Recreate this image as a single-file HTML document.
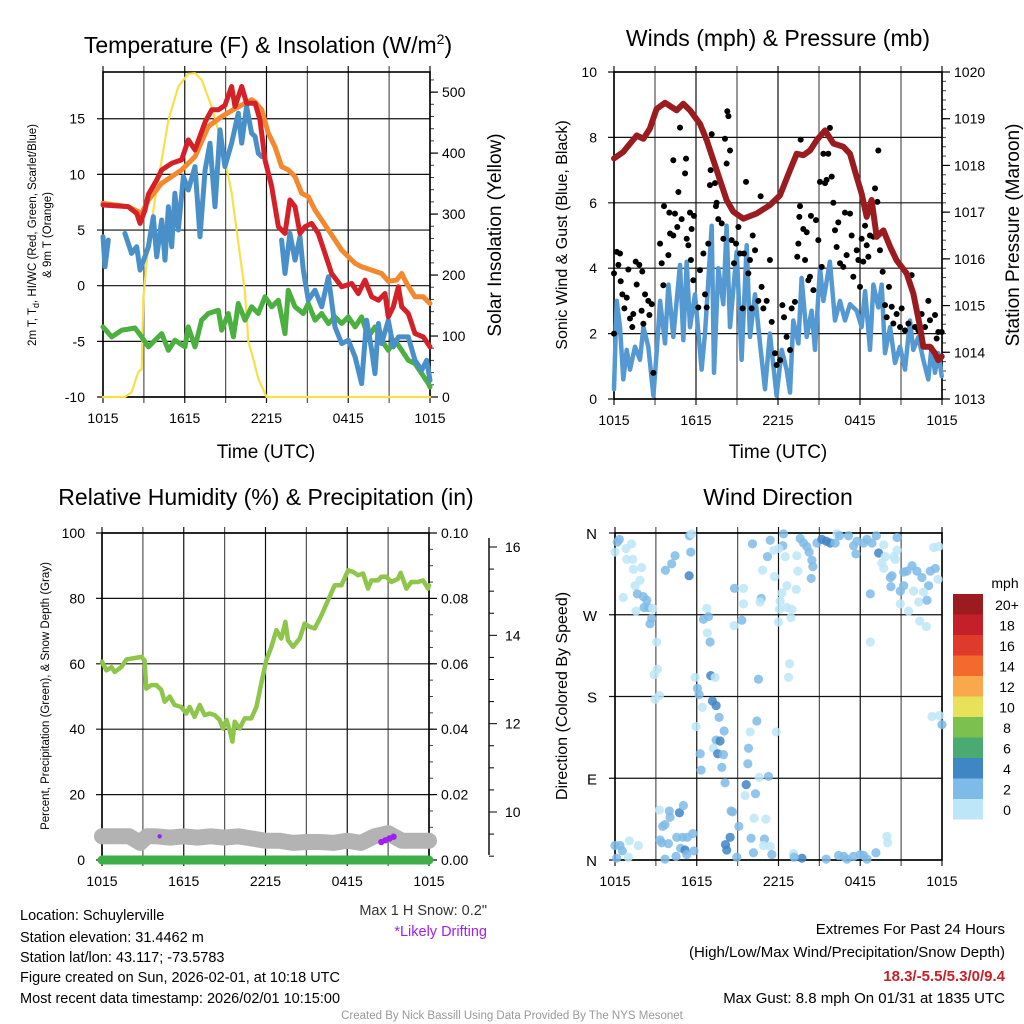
<!DOCTYPE html>
<html><head><meta charset="utf-8"><style>
body{margin:0;background:#fff}
svg{display:block;font-family:"Liberation Sans",sans-serif}
</style></head><body>
<svg id="c" width="1024" height="1024" viewBox="0 0 1024 1024" xmlns="http://www.w3.org/2000/svg">
<rect width="1024" height="1024" fill="#fff"/>
<g id="g"></g>
<text x="268" y="53" font-size="23" text-anchor="middle">Temperature (F) &amp; Insolation (W/m<tspan dy="-9" font-size="14">2</tspan><tspan dy="9">)</tspan></text>
<text x="778" y="46" font-size="23" text-anchor="middle">Winds (mph) &amp; Pressure (mb)</text>
<text x="266" y="505" font-size="23" text-anchor="middle">Relative Humidity (%) &amp; Precipitation (in)</text>
<text x="778" y="505" font-size="23" text-anchor="middle">Wind Direction</text>
<text x="266" y="458" font-size="19" text-anchor="middle">Time (UTC)</text>
<text x="778" y="458" font-size="19" text-anchor="middle">Time (UTC)</text>
<text transform="translate(36,235) rotate(-90)" font-size="11.5" text-anchor="middle">2m T, T<tspan dy="3" font-size="9">d</tspan><tspan dy="-3">, HI/WC (Red, Green, Scarlet/Blue)</tspan></text>
<text transform="translate(51,235) rotate(-90)" font-size="11.5" text-anchor="middle">&amp; 9m T (Orange)</text>
<text transform="translate(501,235) rotate(-90)" font-size="19" text-anchor="middle">Solar Insolation (Yellow)</text>
<text transform="translate(567,235) rotate(-90)" font-size="16" text-anchor="middle">Sonic Wind &amp; Gust (Blue, Black)</text>
<text transform="translate(1019,235) rotate(-90)" font-size="19" text-anchor="middle">Station Pressure (Maroon)</text>
<text transform="translate(49,696) rotate(-90)" font-size="11.5" text-anchor="middle">Percent, Precipitation (Green), &amp; Snow Depth (Gray)</text>
<text transform="translate(567,696) rotate(-90)" font-size="16" text-anchor="middle">Direction (Colored By Speed)</text>
<g font-size="14.5">
<text x="20" y="920">Location: Schuylerville</text>
<text x="20" y="942">Station elevation: 31.4462 m</text>
<text x="20" y="962">Station lat/lon: 43.117; -73.5783</text>
<text x="20" y="982">Figure created on Sun, 2026-02-01, at 10:18 UTC</text>
<text x="20" y="1003">Most recent data timestamp: 2026/02/01 10:15:00</text>
</g>
<text x="487" y="915" font-size="14.5" text-anchor="end" fill="#333">Max 1 H Snow: 0.2"</text>
<text x="487" y="936" font-size="14.5" text-anchor="end" fill="#a020f0">*Likely Drifting</text>
<g font-size="15" text-anchor="end">
<text x="1005" y="934">Extremes For Past 24 Hours</text>
<text x="1005" y="957">(High/Low/Max Wind/Precipitation/Snow Depth)</text>
<text x="1005" y="981" fill="#c8202a" font-weight="bold">18.3/-5.5/5.3/0/9.4</text>
<text x="1005" y="1003">Max Gust: 8.8 mph On 01/31 at 1835 UTC</text>
</g>
<text x="512" y="1019" font-size="11.5" text-anchor="middle" fill="#999">Created By Nick Bassill Using Data Provided By The NYS Mesonet</text>
</svg>
<script>
// ---- Panel 1: temperature (hours since 1015 UTC, value) ----
const redT=[0,1.86,2.47,2.72,3.08,3.33,3.94,4.31,5.04,5.77,6.26,6.75,7.49,7.98,8.46,8.95,9.44,9.69,10.18,10.54,11.16,11.52,11.89,12.38,12.87,13.36,13.72,14.09,14.46,14.83,15.31,15.8,16.29,16.78,17.52,18.25,18.74,19.23,19.72,20.21,20.7,20.94,21.31,21.68,21.92,22.41,22.9,23.51,24];
const redV=[7.25,7.1,6.5,5.6,6.8,8.2,9.5,10.4,11,11.3,13.1,12.2,14.7,15.8,15.8,16.2,17.9,16.1,17.9,16.4,16.4,14.9,11.3,8.9,5.3,4.7,7.7,7.1,4.7,5.3,5.6,4.7,2.9,1.1,-0.1,0.2,-0.7,0.5,-1,-1.3,-0.7,-2.8,-1.9,-0.1,-1.9,-2.5,-4.3,-4.6,-5.5];
const orgT=[0,1.86,2.84,3.33,4.31,5.77,6.75,7.73,8.71,9.69,10.91,11.16,11.65,12.13,12.62,13.11,13.6,14.09,14.58,15.07,15.56,16.54,17.52,18.5,18.98,19.72,20.45,20.94,21.55,21.92,22.29,22.9,23.51,24];
const orgV=[7.4,7.1,6.5,7.7,9.2,10.4,11.6,14.3,15.2,15.9,16.7,16.5,15.8,13.7,12.5,10.7,10.4,9.8,8.3,8,6.8,5,3.2,2,1.7,1.4,1.1,0.4,0.5,1.1,0.2,-1,-1,-1.6];
const bluT=[0,0.15,0.39,null,0.88,null,1.61,2.1,2.47,2.72,3.33,3.69,3.94,4.31,4.55,4.8,5.04,5.28,5.53,5.9,6.26,6.75,7.12,7.49,7.85,8.22,8.59,8.95,9.44,9.93,10.18,10.54,10.91,11.16,11.4,11.65,null,13.11,13.36,13.72,14.09,14.46,14.7,15.07,15.56,16.05,16.54,17.03,17.52,18,18.5,18.98,19.35,19.72,19.96,20.21,20.45,20.94,21.31,21.68,22.04,22.41,22.9,23.39,23.76,24];
const bluV=[4.4,1.7,4.1,null,5.9,null,4.7,2.9,3.5,1.4,3.5,6.2,2.6,5.9,2.3,7.1,3.5,8.3,5,9.8,8.6,10.7,4.4,10.4,12.8,7.1,14,10.7,12.8,15.5,12.8,16.1,13.7,13.4,11.9,11.6,null,4.1,1.1,4.7,2.3,4.4,1.4,-1.3,-0.4,-1.9,0.8,-3.7,-5.2,-4.9,-6.4,-8.8,-3.1,-5.8,-7.9,-3.4,-5.2,-3.1,-5.5,-4.6,-4.6,-4.6,-6.7,-7.6,-6.7,-8.5];
const grnT=[0,0.64,1.37,2.35,2.84,3.33,3.82,4.31,4.8,5.28,6.02,6.26,6.75,7.24,7.73,8.46,8.71,9.2,9.57,9.93,10.42,10.91,11.4,11.89,12.38,12.87,13.36,13.6,14.09,14.7,15.07,15.56,16.05,16.54,17.03,17.52,18,18.5,18.98,19.47,19.96,20.45,20.94,21.43,21.92,22.41,22.9,23.39,23.88,24];
const grnV=[-3.7,-4.6,-4,-3.8,-4.6,-5.5,-4.9,-4.3,-5.8,-4.9,-5.5,-3.7,-5.5,-3.1,-2.5,-2.2,-4,-2.5,-4.6,-1.6,-3.1,-1.9,-2.5,-1,-1.9,-1.3,-4.3,-0.4,-1.9,-2.5,-1.6,-3.1,-2.5,-3.4,-2.8,-3.4,-2.8,-3.7,-2.8,-4.6,-3.7,-4.9,-5.8,-4.9,-5.8,-6.7,-7,-7.9,-8.8,-9.1];
const solT=[0,1.61,2.1,2.59,2.84,2.96,3.33,3.82,4.31,4.8,5.53,6.26,6.75,7.24,7.98,8.71,9.44,9.93,10.42,10.67,10.91,11.4,12.01,24];
const solV=[0,0,8,41,46,160,253,324,389,454,509,530,531,520,476,416,335,253,171,90,73,30,0,0];
const p1LeftTicks=[-10,-5,0,5,10,15];
const p1RightTicks=[0,100,200,300,400,500];
const timeLabels=["1015","1615","2215","0415","1015"];
// ---- Panel 2: wind & pressure ----
const presT=[0,0.68,1.66,2.15,2.63,3.12,3.73,4.59,5.07,5.56,6.29,6.78,7.27,7.76,8.24,8.73,9.46,10.44,11.41,12.15,12.88,13.37,13.85,14.34,14.83,15.44,16.05,16.78,17.27,17.76,18.12,18.49,18.85,19.22,19.71,20.2,20.68,21.41,21.9,22.39,22.63,23.12,23.49,23.73,23.98];
const presV=[1018.15,1018.29,1018.64,1018.57,1018.79,1019.21,1019.34,1019.18,1019.32,1019.18,1018.89,1018.54,1018.11,1017.68,1017.26,1017.01,1016.86,1016.97,1017.15,1017.36,1017.9,1018.25,1018.22,1018.32,1018.54,1018.75,1018.47,1018.4,1018.25,1017.75,1017.4,1016.9,1017.26,1016.47,1016.61,1016.26,1015.97,1015.69,1015.26,1014.55,1014.12,1014.12,1013.98,1013.83,1013.91];
const windT=[0,0.2,0.44,0.68,0.93,1.17,1.54,1.9,2.15,2.51,2.88,3.12,3.37,3.73,3.98,4.34,4.83,5.07,5.32,5.56,5.93,6.41,6.66,6.9,7.15,7.32,7.63,8,8.24,8.49,8.98,9.34,9.71,9.95,10.32,10.68,11.05,11.41,11.9,12.27,12.63,12.88,13.12,13.49,13.73,14.1,14.46,14.71,15.07,15.32,15.8,16.17,16.54,16.9,17.27,17.76,18.12,18.37,18.73,18.98,19.34,19.59,19.83,20.2,20.56,20.93,21.29,21.66,21.9,22.27,22.63,23,23.24,23.49,23.73,23.98];
const windV=[0.3,3,2.2,0.6,1.5,0.9,1.6,1.2,2.2,1.6,0.1,1.4,3,1.7,3.5,1.9,4.1,1.8,4.2,2.2,3.2,0.9,2,3.6,5.3,0.8,4,2.9,5.3,2.2,4.5,1.2,4.7,1.9,3.2,1.7,0.3,2,0.1,1.5,0.9,0.2,2.4,1.7,3.7,1.9,2.7,1.5,4,3,4.2,2.4,3,2.4,2.9,2.7,2.2,3.3,1.5,3.5,2.8,3.5,1.4,2.2,1.1,1.6,0.9,2.4,1.5,1.9,1.2,0.6,1.6,0.8,1.4,0.7];
const gustT=[0,0,0.2,0.44,0.32,0.49,0.61,0.76,0.93,1.05,1.17,1.34,1.41,1.66,1.59,1.85,2.07,2.02,2.15,2.27,2.51,2.76,2.59,2.88,3.37,3.49,3.61,3.66,3.98,4.05,4.1,4.34,4.34,4.46,4.63,4.71,4.83,4.95,5.2,5.27,5.32,5.44,5.56,5.63,5.68,5.8,5.85,6.17,6.29,6.54,6.66,6.78,6.9,7.02,7.07,7.15,7.39,7.46,7.51,7.63,7.88,8,8.12,8.24,8.29,8.37,8.49,8.61,8.78,8.93,9.1,9.22,9.41,9.51,9.66,9.83,9.95,10.07,10.15,10.32,10.56,10.73,10.8,10.93,11.17,11.41,11.54,11.78,11.9,12.15,12.32,12.44,12.63,12.88,13,13.24,13.41,13.49,13.56,13.61,13.66,13.85,13.98,14.1,14.22,14.34,14.41,14.59,14.78,14.95,15.07,15.2,15.32,15.44,15.56,15.68,15.8,15.93,16.05,16.17,16.29,16.41,16.54,16.78,16.9,17.02,17.27,17.39,17.51,17.76,17.88,18,18.12,18.24,18.37,18.49,18.61,18.73,18.98,19.1,19.27,19.34,19.46,19.66,19.83,19.95,20.12,20.32,20.44,20.68,20.93,21.05,21.29,21.54,21.78,22.02,22.27,22.51,22.76,23,23.12,23.49,23.73,23.98,23.61];
const gustV=[3.84,2,4.5,4.45,4.1,3.6,3.2,2.77,3.1,3.96,2.46,2.2,2.6,3.5,4.2,4.1,3.9,2.7,2.3,3.2,3,2.9,2.57,0.8,4.75,4.15,3.48,5.9,4.4,5.7,5.06,5,7.3,5.67,5.26,6.33,8.3,5.5,6.9,7.35,4.9,4.7,5.7,4.25,5.2,3.63,5.6,2.8,3.94,4.45,3.2,2.8,4.75,6.54,7,8.1,6.6,5.9,6,5.5,5.37,4.9,7.96,7.2,8.8,8.65,7.6,4.86,4.15,4.75,5.26,4.45,2.77,4.45,6.64,3.84,4.25,2.77,5,4.55,3,6.2,3.43,2.77,3,4.25,2.36,1.4,1.04,1.19,2.87,2.5,1.9,1.5,2.77,2.97,4.35,4.75,5.57,5.9,7.93,5.2,4.25,5.1,3.63,3.74,5.6,3.33,5.47,4.86,6.64,4.04,7.5,6.6,6.7,7.5,8.29,6.8,6,5.16,4.65,5.4,4.15,4.04,5.7,4.4,5.67,5,3.74,4.55,4.25,3.43,4.9,4.2,5.3,4.7,4.35,5,4.96,6.44,6.03,7.6,4.55,3.89,2.87,2.5,3.43,2.82,2.31,2.6,2.2,2.77,2.1,2.31,3.79,2.2,2.1,2.6,2.2,3,2.41,2.57,2.05,2.05,1.85];
const p2LeftTicks=[0,2,4,6,8,10];
const p2RightTicks=[1013,1014,1015,1016,1017,1018,1019,1020];
// ---- Panel 3: RH, precip, snow ----
const rhT=[0,0.32,0.69,0.93,1.42,1.79,2.15,2.89,3.13,3.25,3.62,3.99,4.35,4.6,4.97,5.33,5.82,6.19,6.43,6.8,7.17,7.54,7.9,8.27,8.64,8.88,9.13,9.37,9.57,9.74,10.1,10.47,10.96,11.33,11.69,12.06,12.43,12.8,13.16,13.46,13.65,14.02,14.51,14.87,15.24,15.61,16.1,16.59,17.08,17.57,18.06,18.42,18.79,19.16,19.52,19.77,20.26,20.5,20.87,21.24,21.72,21.92,22.34,22.7,23.19,23.56,23.93,24];
const rhV=[60.6,58,59,57.5,59,61.3,61.6,62.1,61,52.4,53.5,53.5,52,48.4,50,47.4,46.8,44.8,46.8,43.8,47.4,44.3,44.8,44.3,42.8,40.2,42.8,39.7,36.2,42.3,40.2,43.3,43.3,46.8,54,61.1,65.2,70.3,67.7,72.8,67.2,65.2,67.7,72.3,71.3,70.8,74.8,79.4,84,84,88.6,88.1,87.1,87.6,83,85.5,85.5,86.6,86.6,85,86,87.8,83,85,85,85.5,83,84];
const snowT=[0,1,2,2.8,3.3,4,5,6,7,8,9,10,11,12,13,14,15,16,17,18,19,20,21,22,23,24];
const snowV=[9.45,9.45,9.45,9.3,9.45,9.45,9.42,9.45,9.42,9.45,9.42,9.45,9.4,9.35,9.35,9.3,9.32,9.32,9.3,9.35,9.3,9.45,9.52,9.35,9.35,9.35];
const precipT=[0,24];
const precipV=[0,0];
const driftT=[4.23,20.5,20.8,21.1,21.4];
const driftV=[9.45,9.32,9.36,9.4,9.44];
const p3LeftTicks=[0,20,40,60,80,100];
const p3RightTicks=[0,0.02,0.04,0.06,0.08,0.10];
const snowTicks=[10,12,14,16];
// ---- Panel 4: wind direction [hours, degrees, mph] ----
const dirPts=[[0,339,1],[0.17,350,3],[0.32,353,3],[0.81,343,1],[1.22,348,1],[0.86,331,1],[1.3,331,1],[1.35,320,1],[1.96,322,1],[0.61,289,1],[1.47,302,1],[1.84,308,1],[1.64,293,3],[2.08,290,3],[2.33,286,3],[2.13,278,3],[2.45,278,3],[1.54,274,1],[2.77,277,1],[2.69,266,3],[2.57,260,3],[3.06,240,1],[3.11,210,1],[2.87,204,1],[3.26,181,1],[2.94,177,1],[3.7,319,3],[4.16,326,3],[4.41,335,3],[5.46,357,3],[5.63,359,1],[5.56,339,3],[5.44,313,5],[6.74,277,1],[6.86,268,3],[6.49,265,3],[6.78,250,1],[6.98,240,3],[5.88,201,1],[7.03,203,5],[7.35,201,1],[6.05,189,3],[6.17,182,3],[6.42,168,1],[5.95,147,1],[7.15,175,5],[7.42,170,5],[7.64,157,3],[8.01,142,3],[7.42,132,3],[7.71,131,5],[7.22,123,1],[7.54,117,5],[7.96,116,3],[6.25,117,3],[6.32,99,3],[7.84,102,3],[8.08,85,3],[8.77,299,3],[9.43,299,1],[9.43,282,1],[9.31,264,3],[8.74,258,1],[10.09,348,3],[11.19,334,3],[10.83,319,1],[11.39,352,3],[11.68,341,1],[11.71,312,1],[10.73,288,3],[10.65,284,1],[10.53,199,3],[10.41,153,3],[9.92,141,1],[11.83,141,1],[12.81,216,1],[12.74,201,1],[9.8,123,3],[9.75,106,3],[9.63,83,5],[9.55,71,1],[10.31,73,3],[10.58,91,1],[11.27,92,3],[8.62,53,3],[8.52,54,3],[9.09,37,3],[10.21,46,1],[11.07,45,1],[8.45,25,5],[8.11,17,5],[8.2,11,5],[9.99,24,3],[10.97,23,3],[10.9,16,1],[11.39,15,1],[10.16,8,3],[11.51,6,3],[8.94,3,3],[12.37,359,3],[12.32,346,3],[12.49,334,1],[12.03,343,1],[13.35,335,1],[13.42,318,1],[13.59,354,3],[13.84,349,3],[14.08,345,3],[14.25,339,3],[14.45,330,3],[14.52,323,3],[14.4,310,3],[12.61,302,1],[13.3,298,1],[12.25,294,1],[12.12,285,1],[12.07,276,1],[12.61,278,1],[12.98,276,1],[12.91,267,1],[12,262,1],[14.82,349,3],[15.18,353,5],[15.5,351,5],[15.8,349,5],[16.29,359,1],[16.48,357,3],[16.16,349,3],[17.14,357,3],[17.51,346,3],[17.68,337,3],[17.76,351,3],[18.25,349,3],[18.49,353,3],[18.86,349,3],[19.18,357,3],[19.72,347,1],[19.35,338,5],[19.84,334,1],[19.59,327,1],[19.72,321,1],[18.74,293,3],[18.74,240,1],[20.7,355,3],[20.7,341,1],[20.57,331,1],[20.45,334,1],[20.21,311,3],[20.33,313,3],[20.25,301,3],[20.94,296,3],[21.19,302,3],[20.94,282,1],[21.55,274,1],[21.19,317,3],[21.43,318,3],[21.8,324,3],[22.16,318,3],[22.53,311,3],[23.14,318,3],[23.51,321,3],[23.71,309,1],[23.39,344,1],[23.76,345,1],[23.02,302,3],[21.92,296,1],[22.29,284,1],[22.9,286,3],[22.65,295,1],[22.36,263,1],[22.85,257,1],[23.27,158,1],[23.81,159,1],[24,149,3],[19.96,26,1],[20.01,19,1],[19.15,8,3],[18,6,3],[18.25,5,3],[17.51,4,3],[16.78,4,3],[16.41,5,3],[17.02,1,3],[18.49,1,3],[15.5,1,3],[13.72,2,5],[13.1,7,1],[13.15,3,3],[0,16,3],[0.37,16,3],[0.54,10,3],[0.12,2,3],[1.05,21,1],[1.71,16,1],[0.98,3,1],[3.26,55,1],[3.99,54,3],[4.73,52,5],[5.02,60,3],[4.04,47,3],[3.67,39,3],[3.5,37,3],[3.31,22,3],[3.43,19,3],[3.92,18,3],[4.53,25,3],[4.97,25,3],[5.31,25,3],[5.71,29,3],[4.82,13,3],[5.14,11,5],[5.27,6,3],[4.48,4,3],[5.8,10,3],[3.67,1,3]];
const dirTicks=[0,90,180,270,360];
const dirLabels=["N","E","S","W","N"];
const legendLabels=["20+","18","16","14","12","10","8","6","4","2","0"];
const legendColors=["#9b1b1e","#c4202a","#e03a2c","#f26a2c","#f9a94b","#e8e25a","#7cc04e","#4aab72","#3f86c4","#7fbbe8","#bde6f8"];

const NS="http://www.w3.org/2000/svg";
const G=document.getElementById('g');
function el(tag,attrs,parent){const e=document.createElementNS(NS,tag);for(const k in attrs)e.setAttribute(k,attrs[k]);(parent||G).appendChild(e);return e;}
function lin(d0,d1,r0,r1){return v=>r0+(v-d0)/(d1-d0)*(r1-r0);}
function pathFrom(T,V,sx,sy){let d="",pen=false;for(let i=0;i<T.length;i++){if(T[i]===null||V[i]===null){pen=false;continue;}d+=(pen?"L":"M")+sx(T[i]).toFixed(1)+","+sy(V[i]).toFixed(1);pen=true;}return d;}
function line(T,V,sx,sy,color,w,name){const p=el('path',{d:pathFrom(T,V,sx,sy),fill:'none',stroke:color,'stroke-width':w,'stroke-linejoin':'round','stroke-linecap':'round'});

return p;}
function txt(x,y,s,anchor,size,name,fill){const t=el('text',{x:x,y:y,'text-anchor':anchor,'font-size':size,fill:fill||'#000'});t.textContent=s;

return t;}

function frame(P,name,noGridX){
  const g=el('g',{});
  
  
  const sx=lin(0,24,P.x0,P.x1);
  for(let h=0;h<=24;h+=3){const x=sx(h);
    el('line',{x1:x,y1:P.y0-6,x2:x,y2:P.y1+6,stroke:(h%6==0)?'#111':'#555','stroke-width':1.2},g);}
  for(let i=0;i<5;i++){txt(sx(i*6),P.y1+26,timeLabels[i],'middle',14,'x-tick-label');}
  return {g,sx};
}
function box(P,g){const r=el('rect',{x:P.x0,y:P.y0,width:P.x1-P.x0,height:P.y1-P.y0,fill:'none',stroke:'#000','stroke-width':1.6},g);}
function hgrid(P,ticks,sy,g,labelX,anchor,fmt,side){
  ticks.forEach(v=>{const y=sy(v);
    el('line',{x1:side==='L'?P.x0-6:P.x0,y1:y,x2:side==='R'?P.x1+6:P.x1,y2:y,stroke:'#111','stroke-width':1.2},g);
    txt(labelX,y+5,fmt(v),anchor,14,'y-tick-label');});
}
function rticks(P,ticks,sy,g,fmt,minor){
  if(minor){for(let v=minor[0];v<=minor[1]+1e-9;v+=minor[2]){const y=sy(v);el('line',{x1:P.x1,y1:y,x2:P.x1+4,y2:y,stroke:'#444','stroke-width':1},g);}}
  ticks.forEach(v=>{const y=sy(v);el('line',{x1:P.x1,y1:y,x2:P.x1+8,y2:y,stroke:'#000','stroke-width':1.2},g);txt(P.x1+12,y+5,fmt(v),'start',14,'right-tick-label');});
}

// Panel 1
(function(){
  const P={x0:103,x1:430,y0:72,y1:397};
  const F=frame(P,'temperature-panel');
  const sy=lin(-10,19.2,P.y1,P.y0), sr=lin(0,533,P.y1,P.y0);
  hgrid(P,p1LeftTicks,sy,F.g,85,'end',v=>String(v),'L');
  rticks(P,p1RightTicks,sr,F.g,v=>String(v),[0,520,20]);
  line(solT,solV,F.sx,sr,'#f7e04a',2.2,'solar-line');
  line(grnT,grnV,F.sx,sy,'#4bb040',5,'dewpoint-line');
  line(orgT,orgV,F.sx,sy,'#f4882e',5,'temp-9m-line');
  line(bluT,bluV,F.sx,sy,'#4a90c8',5,'windchill-line');
  line(redT,redV,F.sx,sy,'#d42127',5,'temp-2m-line');
  box(P,F.g);
})();
// Panel 2
(function(){
  const P={x0:614,x1:942,y0:72,y1:399};
  const F=frame(P,'winds-panel');
  const sy=lin(0,10,P.y1,P.y0), sr=lin(1013,1020,P.y1,P.y0);
  hgrid(P,p2LeftTicks,sy,F.g,597,'end',v=>String(v),'L');
  rticks(P,p2RightTicks,sr,F.g,v=>String(v),[1013,1020,0.2]);
  line(windT,windV,F.sx,sy,'#5599d2',4.5,'sonic-wind-line');
  gustT.forEach((t,i)=>{const c=el('circle',{cx:F.sx(t),cy:sy(gustV[i]),r:3,fill:'#000'});
    
    });
  line(presT,presV,F.sx,sr,'#9b1c1f',6,'pressure-line');
  box(P,F.g);
})();
// Panel 3
(function(){
  const P={x0:102,x1:429,y0:533,y1:860};
  const F=frame(P,'humidity-panel');
  const sy=lin(0,100,P.y1,P.y0), sr=lin(0,0.1,P.y1,P.y0), ss=lin(10,16,812,547);
  hgrid(P,p3LeftTicks,sy,F.g,85,'end',v=>String(v),'L');
  rticks(P,p3RightTicks,sr,F.g,v=>v.toFixed(2),[0,0.1,0.005]);
  const ax=el('line',{x1:489,y1:538,x2:489,y2:855,stroke:'#000','stroke-width':1.4},F.g);
  
  for(let v=9;v<=16;v+=0.5){const y=ss(v);el('line',{x1:489,y1:y,x2:(v%2==0)?497:494,y2:y,stroke:'#000','stroke-width':1},F.g);}
  snowTicks.forEach(v=>txt(505,ss(v)+5,String(v),'start',14,'snow-tick-label'));
  line(snowT,snowV,F.sx,ss,'#b3b3b3',16,'snow-depth-line');
  line(precipT,precipV,F.sx,sr,'#3fae49',9,'precip-line');
  line(rhT,rhV,F.sx,sy,'#8dc64a',4.5,'rh-line');
  driftT.forEach((t,i)=>{const c=el('circle',{cx:F.sx(t),cy:ss(driftV[i]),r:i==0?2.2:3.2,fill:'#a020f0'});
    
    });
  box(P,F.g);
})();
// Panel 4
(function(){
  const P={x0:615,x1:942,y0:533,y1:860};
  const F=frame(P,'wind-direction-panel');
  const sy=lin(0,360,P.y1,P.y0);
  dirTicks.forEach((v,i)=>{const y=sy(v);el('line',{x1:P.x0-6,y1:y,x2:P.x1,y2:y,stroke:'#111','stroke-width':1.2},F.g);txt(597,y+6,dirLabels[i],'end',15,'direction-label');});
  const colorOf=s=>legendColors[10-Math.min(10,Math.floor(s/2))];
  dirPts.forEach(p=>{const c=el('circle',{cx:F.sx(p[0]),cy:sy(p[1]),r:4.6,fill:colorOf(p[2]),'fill-opacity':0.85});
    
    });
  box(P,F.g);
  const lg=el('g',{});
  
  
  txt(1005,588,'mph','middle',14,'legend-title');
  legendColors.forEach((c,i)=>{const r=el('rect',{x:953,y:594+i*20.5,width:30,height:20.5,fill:c},lg);
    
    
    txt(1007,610+i*20.5,legendLabels[i],'middle',14,'legend-label');});
})();
</script>
</body></html>
